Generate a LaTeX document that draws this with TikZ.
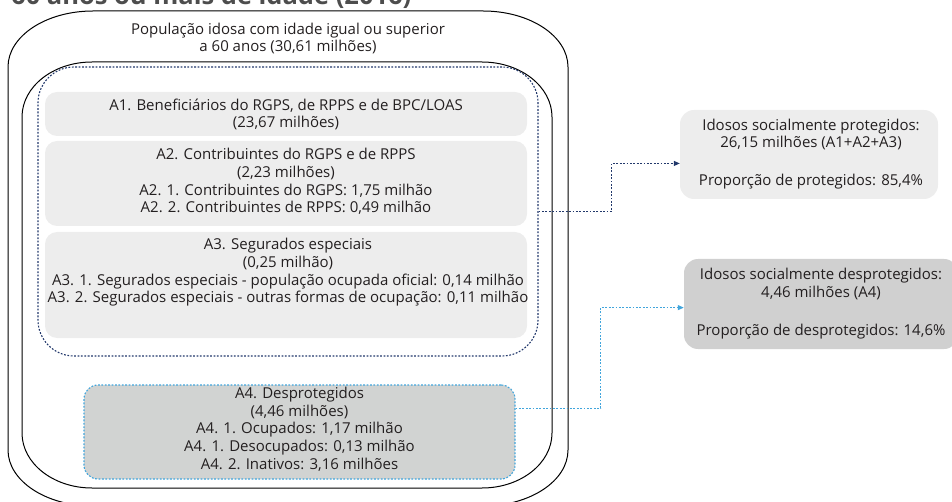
\documentclass[tikz,border=0pt]{standalone}
\usepackage{fontspec}
\setmainfont{Open Sans}
\usetikzlibrary{arrows.meta,calc}
\definecolor{navy}{HTML}{22386B}
\definecolor{lblue}{HTML}{41A5DC}
\definecolor{boxlight}{HTML}{EDEDED}
\definecolor{boxdark}{HTML}{D1D3D2}
\definecolor{boxdark2}{HTML}{D0D0D0}
\definecolor{txt}{HTML}{231F20}
\definecolor{titlegray}{HTML}{4D4D4D}
\begin{document}
\begin{tikzpicture}[x=1pt,y=-1pt,
  font=\fontsize{15}{17.7}\selectfont, text=txt,
  lbl/.style={align=center, inner sep=0pt},
  gbox/.style={fill=boxlight, rounded corners=12pt, inner sep=0pt},
  dotnavy/.style={draw=navy, line width=1.1pt, dash pattern=on 1.8pt off 1.6pt},
  dotblue/.style={draw=lblue, line width=1.1pt, dash pattern=on 1.8pt off 1.6pt},
  tip/.style={-{Triangle[length=6pt,width=5pt]}},
  frame/.style={draw=black, line width=1pt}]
\useasboundingbox (0,0) rectangle (952,502);
\clip (0,0) rectangle (952,502);
% title (cut at top)
\node[anchor=base west, inner sep=0pt, text=titlegray,
  font=\fontsize{25.5}{27}\selectfont\bfseries] (title) at (11,4.5) {60 anos ou mais de idade (2016)};
% outer frame
\draw[frame] (93,11) -- (483,11) arc[start angle=-90,end angle=0,x radius=85,y radius=56]
  -- (568,450) arc[start angle=0,end angle=90,x radius=85,y radius=56]
  -- (93,506) arc[start angle=90,end angle=180,x radius=85,y radius=56]
  -- (8,67) arc[start angle=180,end angle=270,x radius=85,y radius=56] -- cycle;
\node[lbl, font=\fontsize{15}{17}\selectfont] (pop) at (288,38) {População idosa com idade igual ou superior\\a 60 anos (30,61 milhões)};
% inner frame
\draw[frame] (92,62) -- (482,62) arc[start angle=-90,end angle=0,x radius=70,y radius=55]
  -- (552,433) arc[start angle=0,end angle=90,x radius=70,y radius=55]
  -- (92,488) arc[start angle=90,end angle=180,x radius=70,y radius=55]
  -- (22,117) arc[start angle=180,end angle=270,x radius=70,y radius=55] -- cycle;
% protected group
\node[gbox, minimum width=482pt, minimum height=44pt] (a1) at (286,114) {};
\node[gbox, minimum width=482pt, minimum height=85pt] (a2) at (286,183.5) {};
\node[gbox, minimum width=482pt, minimum height=106pt] (a3) at (286,285) {};
\node[lbl] (t1) at (286,114.5) {A1. Beneficiários do RGPS, de RPPS e de BPC/LOAS\\(23,67 milhões)};
\node[lbl] (t2) at (286,181.5) {A2. Contribuintes do RGPS e de RPPS\\(2,23 milhões)\\A2. 1. Contribuintes do RGPS: 1,75 milhão\\A2. 2. Contribuintes de RPPS: 0,49 milhão};
\node[lbl] (t3) at (288,272.5) {A3. Segurados especiais\\(0,25 milhão)\\A3. 1. Segurados especiais - população ocupada oficial: 0,14 milhão\\A3. 2. Segurados especiais - outras formas de ocupação: 0,11 milhão};
\node[dotnavy, rounded corners=36pt, minimum width=500pt, minimum height=289pt, inner sep=0pt] (dotbox) at (288,211.5) {};
% unprotected
\node[fill=boxdark, dotblue, rounded corners=14pt, minimum width=431pt, minimum height=94pt, inner sep=0pt] (a4) at (299.5,432) {};
\node[lbl] (t4) at (299.5,429) {A4. Desprotegidos\\(4,46 milhões)\\A4. 1. Ocupados: 1,17 milhão\\A4. 1. Desocupados: 0,13 milhão\\A4. 2. Inativos: 3,16 milhões};
% right boxes
\node[fill=boxlight, rounded corners=14pt, minimum width=258pt, minimum height=89pt, inner sep=0pt] (prot) at (809,154.5) {};
\node[lbl] (tp) at (811,154) {Idosos socialmente protegidos:\\26,15 milhões (A1+A2+A3)\\[20pt]Proporção de protegidos: 85,4\%};
\node[fill=boxdark2, rounded corners=14pt, minimum width=274pt, minimum height=90pt, inner sep=0pt] (unprot) at (821,304) {};
\node[lbl] (tu) at (821,303.5) {Idosos socialmente desprotegidos:\\4,46 milhões (A4)\\[20pt]Proporção de desprotegidos: 14,6\%};
% connectors
\draw[dotnavy, tip, navy] (dotbox.east) -- ++(73,0) |- ($(prot.north west)!0.6!(prot.south west)$);
\draw[dotblue, tip, lblue] ($(a4.north east)!0.25!(a4.south east)$) -- ++(85,0) |- ($(unprot.north west)!0.54!(unprot.south west)$);
\end{tikzpicture}
\end{document}
